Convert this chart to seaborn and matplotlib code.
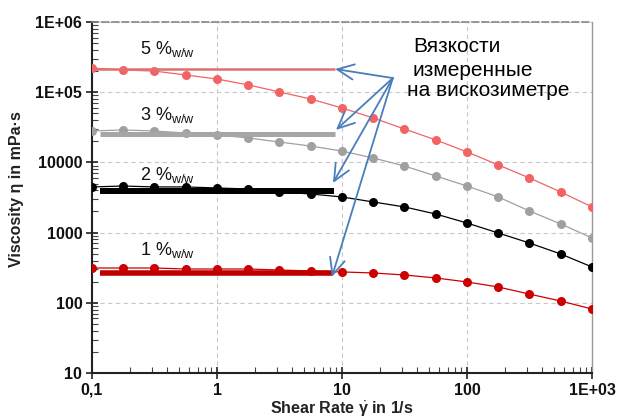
import numpy as np
import pandas as pd
import matplotlib
matplotlib.use("Agg")
import matplotlib.pyplot as plt
import seaborn as sns

# ---- data ----
shear_rate = [0.1, 0.178, 0.316, 0.562, 1, 1.78, 3.16, 5.62, 10, 17.8, 31.6, 56.2,
              100, 178, 316, 562, 1000]
visc_5 = [221000, 207000, 200000, 176000, 154000, 127000, 100700, 80000, 59600,
          42900, 29900, 20900, 14100, 9200, 6000, 3790, 2320]
visc_3 = [28000, 29000, 28000, 26200, 24600, 22300, 19500, 17100, 14500, 11550,
          8890, 6400, 4610, 3220, 2030, 1330, 838]
visc_2 = [4470, 4610, 4470, 4470, 4320, 4180, 3790, 3550, 3220, 2730, 2320, 1840,
          1370, 987, 711, 496, 324]
visc_1 = [313, 313, 313, 303, 303, 303, 293, 284, 275, 266, 249, 226, 198, 168,
          133, 106, 81.6]

# viscometer values (horizontal bars): value, x-start, x-end
visco_5 = [213000, 0.1, 8.8]
visco_3 = [25400, 0.116, 8.8]
visco_2 = [3920, 0.116, 8.6]
visco_1 = [262, 0.116, 8.3]

series_labels = ["5 %", "3 %", "2 %", "1 %"]
label_y = [410000, 47000, 6600, 565]
annot_lines = ["Вязкости", "измеренные", "на вискозиметре"]
arrow_origin = (25.5, 159000)
arrow_tips = [(8.8, 214000), (8.95, 29000), (8.47, 5090), (8.3, 233)]

x_ticks = [0.1, 1, 10, 100, 1000]
x_ticklabels = ["0,1", "1", "10", "100", "1E+03"]
y_ticks = [10, 100, 1000, 10000, 100000, 1000000]
y_ticklabels = ["10", "100", "1000", "10000", "1E+05", "1E+06"]

# ---- style ----
sns.set_style("white")
plt.rcParams["font.family"] = ["Liberation Sans", "DejaVu Sans"]
plt.rcParams["mathtext.fontset"] = "custom"
plt.rcParams["mathtext.rm"] = "Liberation Sans"
plt.rcParams["mathtext.it"] = "Liberation Sans:bold"
plt.rcParams["mathtext.bf"] = "Liberation Sans:bold"

fig = plt.figure(figsize=(6.23, 4.19), dpi=100)
ax = fig.add_axes([0.1477, 0.1098, 0.8025, 0.8377])

colors = ["#f26464", "#a0a0a0", "#000000", "#cc0000"]
bar_colors = ["#e07070", "#a6a6a6", "#000000", "#c00000"]
bar_lw = [1.8, 3.6, 4.3, 4.0]
data = [visc_5, visc_3, visc_2, visc_1]
bars = [visco_5, visco_3, visco_2, visco_1]

for vals, c in zip(data, colors):
    sns.lineplot(x=shear_rate, y=vals, ax=ax, color=c, marker="o", markersize=6.5,
                 markeredgewidth=0, linewidth=0.9, zorder=3)

for b, c, lw in zip(bars, bar_colors, bar_lw):
    ax.hlines(b[0], b[1], b[2], color=c, linewidth=lw, zorder=4)

ax.set_xscale("log")
ax.set_yscale("log")
ax.set_xlim(0.1, 1000)
ax.set_ylim(10, 1000000)

ax.set_xticks(x_ticks)
ax.set_xticklabels(x_ticklabels)
ax.set_yticks(y_ticks)
ax.set_yticklabels(y_ticklabels)
ax.xaxis.set_minor_locator(matplotlib.ticker.LogLocator(base=10, subs=np.arange(2, 10)))
ax.yaxis.set_minor_locator(matplotlib.ticker.LogLocator(base=10, subs=np.arange(2, 10)))
ax.xaxis.set_minor_formatter(matplotlib.ticker.NullFormatter())
ax.yaxis.set_minor_formatter(matplotlib.ticker.NullFormatter())

for lab in ax.get_xticklabels() + ax.get_yticklabels():
    lab.set_fontweight("bold")
    lab.set_fontsize(11.5)
    lab.set_color("#111111")

ax.tick_params(axis="both", which="major", direction="inout", length=8, width=1.2,
               color="#222222", pad=3, left=True, bottom=True)
ax.tick_params(axis="both", which="minor", direction="in", length=4, width=0.8,
               color="#444444", left=True, bottom=True)

ax.grid(True, which="major", linestyle=(0, (4, 3)), color="#c8c8c8", linewidth=0.8)
ax.set_axisbelow(True)

ax.spines["left"].set_color("#222222")
ax.spines["left"].set_linewidth(1.5)
ax.spines["bottom"].set_color("#222222")
ax.spines["bottom"].set_linewidth(1.5)
ax.spines["top"].set_color("#888888")
ax.spines["top"].set_linestyle((0, (4, 2)))
ax.spines["top"].set_linewidth(1.2)
ax.spines["right"].set_color("#999999")
ax.spines["right"].set_linewidth(1.0)

ax.set_xlabel(r"Shear Rate $\dot{\gamma}$ in 1/s", fontsize=11.5, fontweight="bold",
              color="#222222")
ax.xaxis.set_label_coords(0.5, -(409 - 373) / 351, transform=ax.transAxes)
ax.xaxis.label.set_va("center")
ax.set_ylabel("Viscosity η in mPa·s", fontsize=11.5, fontweight="bold",
              color="#222222")
ax.yaxis.set_label_coords((16 - 92) / 500, (373 - 189) / 351, transform=ax.transAxes)
ax.yaxis.label.set_va("center")

for lbl, ly in zip(series_labels, label_y):
    ax.text(0.242, ly, lbl + r"$_{\mathregular{w/w}}$", fontsize=13, color="#111111",
            va="center", ha="left", zorder=5)

for i, line in enumerate(annot_lines):
    xs = [413, 413, 407][i]
    ys = [47, 70, 91][i]
    fig.text(xs / 623, 1 - ys / 419, line, fontsize=15, color="#000000",
             ha="left", va="center")

for tip in arrow_tips:
    ax.annotate("", xy=tip, xytext=arrow_origin,
                arrowprops=dict(arrowstyle="->,head_length=1.2,head_width=0.55",
                                color="#4a7ebb", lw=1.3, shrinkA=0, shrinkB=0),
                zorder=6)

fig.savefig("out.png", dpi=100)
